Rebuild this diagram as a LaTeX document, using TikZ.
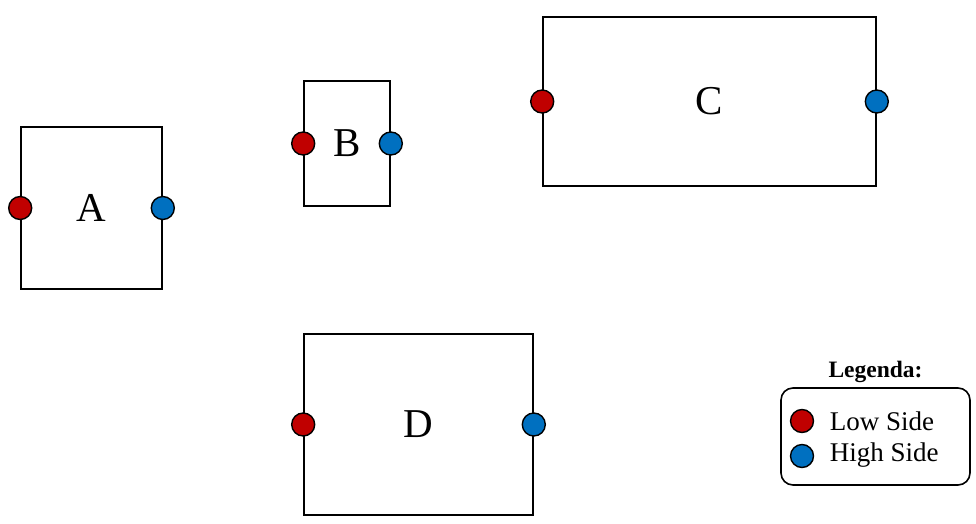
\documentclass[tikz,border=0pt]{standalone}
\usepackage{fontspec}
\setmainfont{Liberation Serif}
\usetikzlibrary{positioning}
\definecolor{lowred}{HTML}{C00000}
\definecolor{highblue}{HTML}{0070C0}

\begin{document}
\begin{tikzpicture}[x=1pt, y=-1pt, line width=1.6pt,
  unit/.style={draw, inner sep=0pt, font=\fontsize{41}{41}\selectfont},
  port/.style={circle, draw, line width=1.4pt, inner sep=0pt, minimum size=23pt},
  lowport/.style={port, fill=lowred},
  highport/.style={port, fill=highblue},
  legtext/.style={font=\fontsize{27}{27}\selectfont, inner sep=0pt, anchor=west}]
  \useasboundingbox (0,0) rectangle (976,524);

  % unidades
  \node[unit, minimum width=141pt, minimum height=162pt] (A) at (91.5,208) {A};
  \node[unit, minimum width=86pt,  minimum height=125pt] (B) at (347,143.5) {B};
  \node[unit, minimum width=333pt, minimum height=169pt] (C) at (709.5,101.5) {C};
  \node[unit, minimum width=229pt, minimum height=181pt] (D) at (418.5,424.5) {D};

  % lados low / high
  \foreach \u in {A, B, C, D} {
    \node[lowport]  (\u-low)  at (\u.west) {};
    \node[highport] (\u-high) at (\u.east) {};
  }

  % legenda
  \node[draw, rounded corners=12pt, minimum width=189pt, minimum height=97pt]
    (leg) at (875.5,436.5) {};
  \node[font=\bfseries\fontsize{23.5}{23.5}\selectfont, above=0pt of leg] (legtitle) {Legenda:};
  \node[lowport]  (leglow)  at (802,421) {};
  \node[highport] (leghigh) at (802,456) {};
  \node[legtext] (leglowtxt)  at (829,421) {Low Side};
  \node[legtext] (leghightxt) at (829,455) {High Side};
\end{tikzpicture}
\end{document}
